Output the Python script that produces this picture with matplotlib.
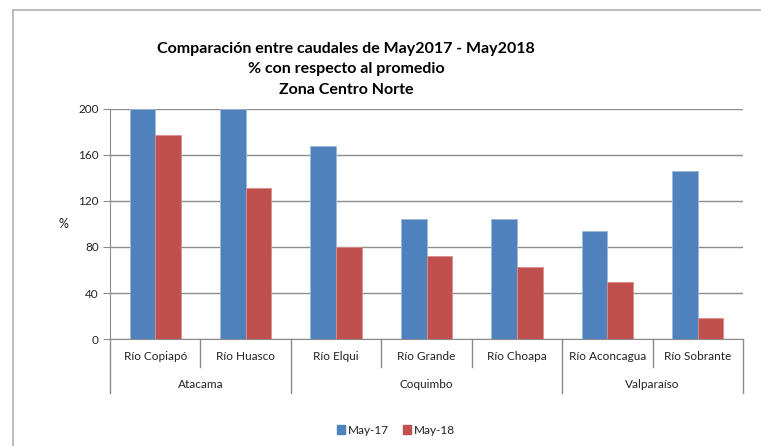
import matplotlib.pyplot as plt
from matplotlib.lines import Line2D
from matplotlib.patches import Patch
import numpy as np

rivers = ["Río Copiapó", "Río Huasco", "Río Elqui", "Río Grande",
          "Río Choapa", "Río Aconcagua", "Río Sobrante"]
regions = ["Atacama", "Coquimbo", "Valparaíso"]
region_sizes = [2, 3, 2]
may17 = [200, 200, 168, 104, 104, 94, 146]
may18 = [177, 131, 80, 72, 63, 50, 18]
series_names = ["May-17", "May-18"]

blue = "#4F81BD"
red = "#C0504D"
grid_col = "#8C8C8C"
txt_col = "#222222"

plt.rcParams['font.family'] = ['Lato', 'DejaVu Sans']

W, H = 761, 446
fig = plt.figure(figsize=(W / 100, H / 100), dpi=100)

# outer chart frame (only top and left visible in the crop)
fig.add_artist(Line2D([13 / W, 1], [1 - 10 / H, 1 - 10 / H], color="#B0B0B0", lw=1.2))
fig.add_artist(Line2D([13 / W, 13 / W], [0, 1 - 10 / H], color="#B0B0B0", lw=1.2))

left, right, top, bottom = 110, 743, 109, 339
ax = fig.add_axes([left / W, 1 - bottom / H, (right - left) / W, (bottom - top) / H])

x = np.arange(len(rivers))
bw = 0.283
ax.bar(x - bw / 2, may17, bw, color=blue, edgecolor="#9DB9DC", linewidth=0.6, zorder=3)
ax.bar(x + bw / 2, may18, bw, color=red, edgecolor="#DA8E8C", linewidth=0.6, zorder=3)

ax.set_xlim(-0.5, len(rivers) - 0.5)
ax.set_ylim(0, 200)
ax.set_yticks(range(0, 201, 40))
ax.yaxis.grid(True, color=grid_col, lw=1.0, zorder=0)
ax.tick_params(axis="y", length=5, color=grid_col, labelsize=8.5, labelcolor=txt_col, pad=3)
ax.set_xticks([])
for s in ["top", "right"]:
    ax.spines[s].set_visible(False)
ax.spines["left"].set_color(grid_col)
ax.spines["bottom"].set_color(grid_col)
ax.set_ylabel("%", rotation=0, fontsize=9, color=txt_col, labelpad=11, va="center")

# two-level category axis
trans = ax.get_xaxis_transform()
lvl1 = -27.7 / 230
lvl2 = -54.3 / 230
for i, name in enumerate(rivers):
    ax.text(i, -18 / 230, name, transform=trans, ha="center", va="center",
            fontsize=8.5, color=txt_col)
bounds = np.cumsum([0] + region_sizes) - 0.5
for xb in np.arange(-0.5, len(rivers)):
    depth = lvl2 if xb in bounds else lvl1
    ax.plot([xb, xb], [0, depth], transform=trans, color=grid_col, lw=1.0, clip_on=False)
for i, reg in enumerate(regions):
    mid = (bounds[i] + bounds[i + 1]) / 2
    ax.text(mid, -46 / 230, reg, transform=trans, ha="center", va="center",
            fontsize=8.5, color=txt_col)

fig.text(346 / W, 1 - 69.5 / H,
         "Comparación entre caudales de May2017 - May2018\n% con respecto al promedio\nZona Centro Norte",
         ha="center", va="center", fontsize=11.5, fontweight="bold", color="black",
         linespacing=1.6)

handles = [Patch(color=blue), Patch(color=red)]
fig.legend(handles, series_names, loc="center", bbox_to_anchor=(396 / W, 1 - 430 / H),
           ncol=2, frameon=False, fontsize=8.5, handlelength=0.7, handleheight=0.7,
           handletextpad=0.2, columnspacing=1.2, labelcolor=txt_col)

fig.savefig("out.png", dpi=100)
